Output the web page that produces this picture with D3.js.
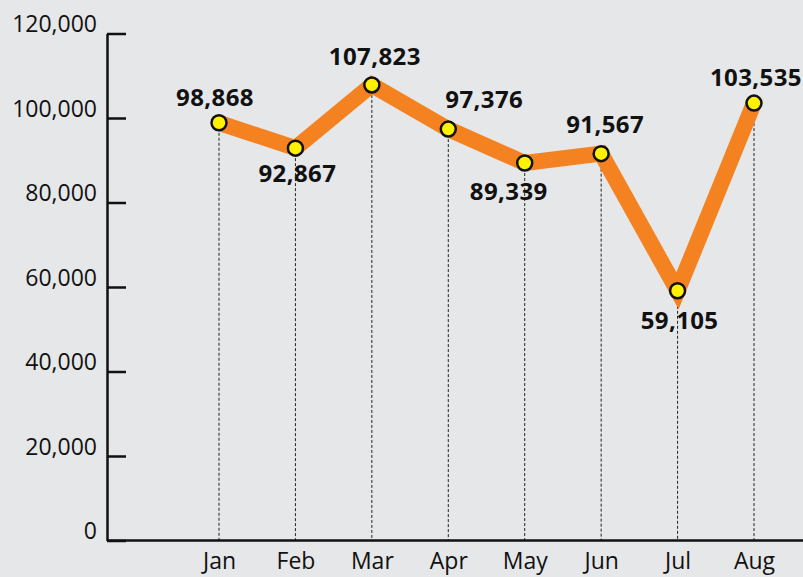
<!DOCTYPE html>
<html>
<head>
<meta charset="utf-8">
<script src="https://cdn.jsdelivr.net/npm/d3@7"></script>
<style>
  html, body { margin: 0; padding: 0; background: #e6e7e8; }
  svg { display: block; font-family: "Open Sans", sans-serif; }
  .axis .domain, .axis line { stroke: #111; stroke-width: 2.5; }
  .axis text { fill: #111; font-family: "Open Sans", sans-serif; font-size: 23px; }
</style>
</head>
<body>
<div id="chart-container"></div>
<script>
// monthly values
const months = ["Jan", "Feb", "Mar", "Apr", "May", "Jun", "Jul", "Aug"];
const values = [98868, 92867, 107823, 97376, 89339, 91567, 59105, 103535];
const yTicks = [0, 20000, 40000, 60000, 80000, 100000, 120000];
// value label nudges relative to each dot (px)
const labelDx = [-4, 2, 3, 36, -16, 4, 2, 2];
const labelDy = [-17, 34, -20, -21, 37, -21, 38, -17];

const width = 803, height = 577;
const margin = ({ top: 34, right: 0, bottom: 36, left: 107 });

const svg = d3.select("#chart-container")
    .append("svg")
    .attr("width", width)
    .attr("height", height);

svg.append("rect")
    .attr("width", width)
    .attr("height", height)
    .attr("fill", "#e6e7e8");

const x = d3.scalePoint()
    .domain(months)
    .range([219, 754]);

const y = d3.scaleLinear()
    .domain([0, 120000])
    .range([height - margin.bottom - 0.5, margin.top - 0.5]);

const fmt = d3.format(",");
const data = months.map((m, i) => ({ month: m, value: values[i], dx: labelDx[i], dy: labelDy[i] }));

// dotted drop lines
svg.selectAll(".drop")
    .data(data)
    .enter().append("line")
    .attr("class", "drop")
    .attr("x1", d => x(d.month))
    .attr("x2", d => x(d.month))
    .attr("y1", d => y(d.value))
    .attr("y2", y(0))
    .attr("stroke", "#222")
    .attr("stroke-width", 1)
    .attr("stroke-dasharray", "3,2");

// y axis
svg.append("g")
    .attr("class", "axis y")
    .attr("transform", `translate(${margin.left},0)`)
    .call(d3.axisLeft(y).tickValues(yTicks).tickFormat(fmt).tickSize(-19).tickSizeOuter(0).tickPadding(10))
    .call(g => g.selectAll(".tick text").attr("dy", "-0.08em"));

// x axis
svg.append("g")
    .attr("class", "axis x")
    .attr("transform", `translate(0,${y(0)})`)
    .call(d3.axisBottom(x).tickSize(0).tickPadding(12))
    .call(g => g.select(".domain").attr("d", `M${margin.left},0H${width}`));

const line = d3.line()
    .x(d => x(d.month))
    .y(d => y(d.value));

svg.append("path")
    .datum(data)
    .attr("fill", "none")
    .attr("stroke", "#f58220")
    .attr("stroke-width", 16)
    .attr("stroke-linejoin", "miter")
    .attr("stroke-miterlimit", 10)
    .attr("stroke-linecap", "butt")
    .attr("d", line);

svg.selectAll(".dot")
    .data(data)
    .enter().append("circle")
    .attr("class", "dot")
    .attr("cx", d => x(d.month))
    .attr("cy", d => y(d.value))
    .attr("r", 7.5)
    .attr("fill", "#fff200")
    .attr("stroke", "#111")
    .attr("stroke-width", 2.5);

svg.selectAll(".val")
    .data(data)
    .enter().append("text")
    .attr("class", "val")
    .attr("x", d => x(d.month) + d.dx)
    .attr("y", d => y(d.value) + d.dy)
    .attr("text-anchor", "middle")
    .attr("font-size", "24px")
    .attr("font-weight", "bold")
    .attr("letter-spacing", "0.4px")
    .attr("fill", "#111")
    .text(d => fmt(d.value));
</script>
</body>
</html>
